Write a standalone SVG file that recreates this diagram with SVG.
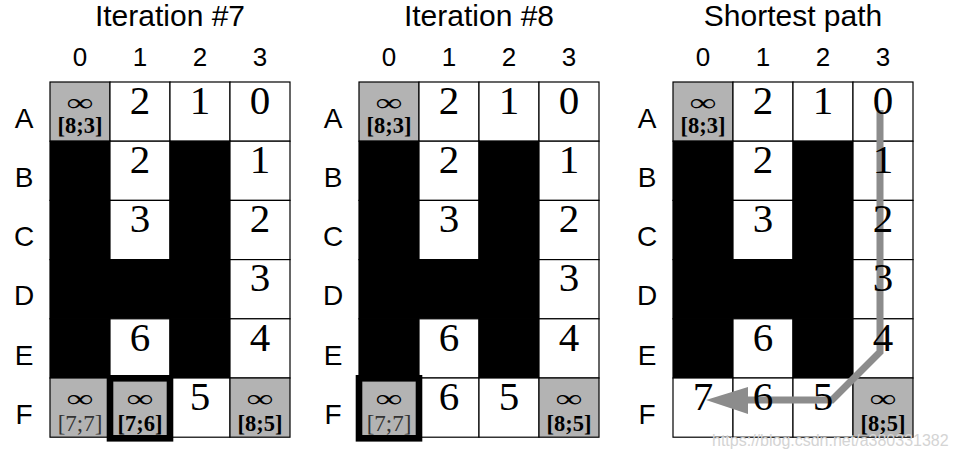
<svg xmlns="http://www.w3.org/2000/svg" width="955" height="458" viewBox="0 0 955 458">
<style>
.bg{fill:#fff}
.w{fill:#fff;stroke:#000;stroke-width:1.2}
.k{fill:#000;stroke:#000;stroke-width:1.2}
.g{fill:#b3b3b3;stroke:#000;stroke-width:1.2}
.sel{fill:none;stroke:#000;stroke-width:6.6}
.num{font-family:"Liberation Serif","Times New Roman",serif;font-size:41px;text-anchor:middle;fill:#000}
.inf{font-family:"Liberation Serif","Times New Roman",serif;font-size:25px;text-anchor:middle;fill:#000}
.br{font-family:"Liberation Serif","Times New Roman",serif;font-size:22.5px;font-weight:bold;text-anchor:middle;fill:#000}
.brl{font-family:"Liberation Serif","Times New Roman",serif;font-size:23px;text-anchor:middle;fill:#333}
.ttl{font-family:"Liberation Sans",Arial,sans-serif;font-size:30px;text-anchor:middle;fill:#000}
.col{font-family:"Liberation Sans",Arial,sans-serif;font-size:26px;text-anchor:middle;fill:#000}
.row{font-family:"Liberation Sans",Arial,sans-serif;font-size:28px;text-anchor:middle;fill:#000}
.path{fill:none;stroke:#8c8c8c;stroke-width:7;stroke-linejoin:miter}
.head{fill:#8c8c8c}
.wm{font-family:"Liberation Sans",Arial,sans-serif;font-size:16px;fill:#d4d4d4}
</style>
<rect class="bg" x="0" y="0" width="955" height="458"/>

<!-- ===== Grid 1: Iteration #7 ===== -->
<g id="grid-iter7">
<text class="ttl" x="170" y="26">Iteration #7</text>
<text class="col" x="80" y="66">0</text><text class="col" x="140" y="66">1</text><text class="col" x="200" y="66">2</text><text class="col" x="260" y="66">3</text>
<text class="row" x="24" y="128">A</text><text class="row" x="24" y="187">B</text><text class="row" x="24" y="246">C</text><text class="row" x="24" y="305">D</text><text class="row" x="24" y="365">E</text><text class="row" x="24" y="424">F</text>
<rect class="g" x="50" y="82" width="60" height="59.2"/><rect class="w" x="110" y="82" width="60" height="59.2"/><rect class="w" x="170" y="82" width="60" height="59.2"/><rect class="w" x="230" y="82" width="60" height="59.2"/>
<rect class="k" x="50" y="141.2" width="60" height="59.2"/><rect class="w" x="110" y="141.2" width="60" height="59.2"/><rect class="k" x="170" y="141.2" width="60" height="59.2"/><rect class="w" x="230" y="141.2" width="60" height="59.2"/>
<rect class="k" x="50" y="200.4" width="60" height="59.2"/><rect class="w" x="110" y="200.4" width="60" height="59.2"/><rect class="k" x="170" y="200.4" width="60" height="59.2"/><rect class="w" x="230" y="200.4" width="60" height="59.2"/>
<rect class="k" x="50" y="259.6" width="180" height="59.2"/><rect class="w" x="230" y="259.6" width="60" height="59.2"/>
<rect class="k" x="50" y="318.8" width="60" height="59.2"/><rect class="w" x="110" y="318.8" width="60" height="59.2"/><rect class="k" x="170" y="318.8" width="60" height="59.2"/><rect class="w" x="230" y="318.8" width="60" height="59.2"/>
<rect class="g" x="50" y="378" width="60" height="59.2"/><rect class="g" x="110" y="378" width="60" height="59.2"/><rect class="w" x="170" y="378" width="60" height="59.2"/><rect class="g" x="230" y="378" width="60" height="59.2"/>
<rect class="sel" x="110" y="378.3" width="60" height="60"/>
<text class="inf" x="80" y="111" textLength="27" lengthAdjust="spacingAndGlyphs">∞</text><text class="br" x="80" y="133">[8;3]</text>
<text class="num" x="140" y="114">2</text><text class="num" x="200" y="114">1</text><text class="num" x="260" y="114">0</text>
<text class="num" x="140" y="173">2</text><text class="num" x="260" y="173">1</text>
<text class="num" x="140" y="232">3</text><text class="num" x="260" y="232">2</text>
<text class="num" x="260" y="291">3</text>
<text class="num" x="140" y="351">6</text><text class="num" x="260" y="351">4</text>
<text class="inf" x="80" y="406.5" textLength="27" lengthAdjust="spacingAndGlyphs">∞</text><text class="brl" x="80" y="431">[7;7]</text>
<text class="inf" x="140" y="406.5" textLength="27" lengthAdjust="spacingAndGlyphs">∞</text><text class="br" x="140" y="431">[7;6]</text>
<text class="num" x="200" y="410">5</text>
<text class="inf" x="260" y="406.5" textLength="27" lengthAdjust="spacingAndGlyphs">∞</text><text class="br" x="260" y="431">[8;5]</text>
</g>

<!-- ===== Grid 2: Iteration #8 ===== -->
<g id="grid-iter8">
<text class="ttl" x="479" y="26">Iteration #8</text>
<text class="col" x="389" y="66">0</text><text class="col" x="449" y="66">1</text><text class="col" x="509" y="66">2</text><text class="col" x="569" y="66">3</text>
<text class="row" x="333" y="128">A</text><text class="row" x="333" y="187">B</text><text class="row" x="333" y="246">C</text><text class="row" x="333" y="305">D</text><text class="row" x="333" y="365">E</text><text class="row" x="333" y="424">F</text>
<rect class="g" x="359" y="82" width="60" height="59.2"/><rect class="w" x="419" y="82" width="60" height="59.2"/><rect class="w" x="479" y="82" width="60" height="59.2"/><rect class="w" x="539" y="82" width="60" height="59.2"/>
<rect class="k" x="359" y="141.2" width="60" height="59.2"/><rect class="w" x="419" y="141.2" width="60" height="59.2"/><rect class="k" x="479" y="141.2" width="60" height="59.2"/><rect class="w" x="539" y="141.2" width="60" height="59.2"/>
<rect class="k" x="359" y="200.4" width="60" height="59.2"/><rect class="w" x="419" y="200.4" width="60" height="59.2"/><rect class="k" x="479" y="200.4" width="60" height="59.2"/><rect class="w" x="539" y="200.4" width="60" height="59.2"/>
<rect class="k" x="359" y="259.6" width="180" height="59.2"/><rect class="w" x="539" y="259.6" width="60" height="59.2"/>
<rect class="k" x="359" y="318.8" width="60" height="59.2"/><rect class="w" x="419" y="318.8" width="60" height="59.2"/><rect class="k" x="479" y="318.8" width="60" height="59.2"/><rect class="w" x="539" y="318.8" width="60" height="59.2"/>
<rect class="g" x="359" y="378" width="60" height="59.2"/><rect class="w" x="419" y="378" width="60" height="59.2"/><rect class="w" x="479" y="378" width="60" height="59.2"/><rect class="g" x="539" y="378" width="60" height="59.2"/>
<rect class="sel" x="359" y="378.3" width="60" height="60"/>
<text class="inf" x="389" y="111" textLength="27" lengthAdjust="spacingAndGlyphs">∞</text><text class="br" x="389" y="133">[8;3]</text>
<text class="num" x="449" y="114">2</text><text class="num" x="509" y="114">1</text><text class="num" x="569" y="114">0</text>
<text class="num" x="449" y="173">2</text><text class="num" x="569" y="173">1</text>
<text class="num" x="449" y="232">3</text><text class="num" x="569" y="232">2</text>
<text class="num" x="569" y="291">3</text>
<text class="num" x="449" y="351">6</text><text class="num" x="569" y="351">4</text>
<text class="inf" x="389" y="406.5" textLength="27" lengthAdjust="spacingAndGlyphs">∞</text><text class="brl" x="389" y="431">[7;7]</text>
<text class="num" x="449" y="410">6</text><text class="num" x="509" y="410">5</text>
<text class="inf" x="569" y="406.5" textLength="27" lengthAdjust="spacingAndGlyphs">∞</text><text class="br" x="569" y="431">[8;5]</text>
</g>

<!-- ===== Grid 3: Shortest path ===== -->
<g id="grid-shortest">
<text class="ttl" x="793" y="26">Shortest path</text>
<text class="col" x="703" y="66">0</text><text class="col" x="763" y="66">1</text><text class="col" x="823" y="66">2</text><text class="col" x="883" y="66">3</text>
<text class="row" x="647" y="128">A</text><text class="row" x="647" y="187">B</text><text class="row" x="647" y="246">C</text><text class="row" x="647" y="305">D</text><text class="row" x="647" y="365">E</text><text class="row" x="647" y="424">F</text>
<rect class="g" x="673" y="82" width="60" height="59.2"/><rect class="w" x="733" y="82" width="60" height="59.2"/><rect class="w" x="793" y="82" width="60" height="59.2"/><rect class="w" x="853" y="82" width="60" height="59.2"/>
<rect class="k" x="673" y="141.2" width="60" height="59.2"/><rect class="w" x="733" y="141.2" width="60" height="59.2"/><rect class="k" x="793" y="141.2" width="60" height="59.2"/><rect class="w" x="853" y="141.2" width="60" height="59.2"/>
<rect class="k" x="673" y="200.4" width="60" height="59.2"/><rect class="w" x="733" y="200.4" width="60" height="59.2"/><rect class="k" x="793" y="200.4" width="60" height="59.2"/><rect class="w" x="853" y="200.4" width="60" height="59.2"/>
<rect class="k" x="673" y="259.6" width="180" height="59.2"/><rect class="w" x="853" y="259.6" width="60" height="59.2"/>
<rect class="k" x="673" y="318.8" width="60" height="59.2"/><rect class="w" x="733" y="318.8" width="60" height="59.2"/><rect class="k" x="793" y="318.8" width="60" height="59.2"/><rect class="w" x="853" y="318.8" width="60" height="59.2"/>
<rect class="w" x="673" y="378" width="60" height="59.2"/><rect class="w" x="733" y="378" width="60" height="59.2"/><rect class="w" x="793" y="378" width="60" height="59.2"/><rect class="g" x="853" y="378" width="60" height="59.2"/>
</g>

<g id="connectors">
<polyline class="path" points="880,110 880,352 832,400 747,400"/>
<polygon class="head" points="706,400 748,387 748,414"/>
</g>

<g id="grid-shortest-labels">
<text class="inf" x="703" y="111" textLength="27" lengthAdjust="spacingAndGlyphs">∞</text><text class="br" x="703" y="133">[8;3]</text>
<text class="num" x="763" y="114">2</text><text class="num" x="823" y="114">1</text><text class="num" x="883" y="114">0</text>
<text class="num" x="763" y="173">2</text><text class="num" x="883" y="173">1</text>
<text class="num" x="763" y="232">3</text><text class="num" x="883" y="232">2</text>
<text class="num" x="883" y="291">3</text>
<text class="num" x="763" y="351">6</text><text class="num" x="883" y="351">4</text>
<text class="num" x="703" y="410">7</text><text class="num" x="763" y="410">6</text><text class="num" x="823" y="410">5</text>
<text class="inf" x="883" y="406.5" textLength="27" lengthAdjust="spacingAndGlyphs">∞</text><text class="br" x="883" y="431">[8;5]</text>
</g>

<text class="wm" x="712" y="446">https://blog.csdn.net/a380331382</text>
</svg>
